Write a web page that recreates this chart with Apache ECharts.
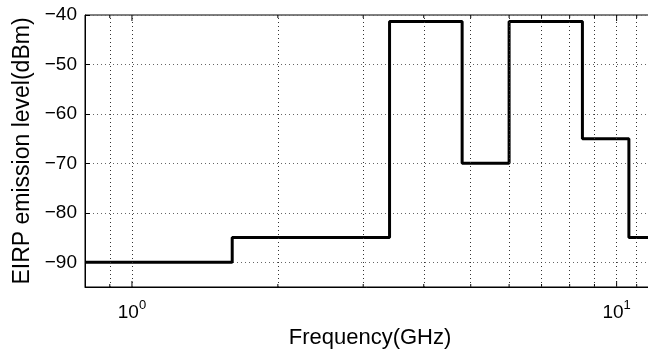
<!DOCTYPE html>
<html style="height: 100%">
<head>
    <meta charset="utf-8">
    <title>EIRP emission mask</title>
</head>
<body style="height: 100%; margin: 0; background: #fff">
<div id="container" style="width: 648px; height: 349px"></div>
<script type="text/javascript" src="https://cdn.jsdelivr.net/npm/echarts@6/dist/echarts.min.js"></script>
<script type="text/javascript">
    // step edges (GHz) and the level held between each pair of edges (dBm)
    var freqEdges = [0.8, 1.61, 3.4, 4.8, 6.0, 8.5, 10.6, 12];
    var levels = [-90, -85, -41.3, -70, -41.3, -65, -85];
    // vertical dotted grid lines / ticks on the log axis
    var gridFreqs = [0.9, 1, 2, 3, 4, 5, 6, 7, 8, 9, 10, 11];
    var yTicks = [-90, -80, -70, -60, -50, -40];

    var font = '"Liberation Sans", Arial, Helvetica, sans-serif';

    var stepData = [];
    for (var i = 0; i < freqEdges.length; i++) {
        var lv = i < levels.length ? levels[i] : levels[levels.length - 1];
        stepData.push([freqEdges[i], lv]);
    }

    var myChart = echarts.init(document.getElementById("container"));
    var option = {
        animation: false,
        grid: {
            left: 85,
            top: 15,
            width: 570,
            height: 272,
            containLabel: false,
            outerBoundsMode: 'none',
            show: true,
            borderColor: '#000',
            borderWidth: 1,
            backgroundColor: '#fff'
        },
        xAxis: {
            type: 'log',
            logBase: 10,
            min: 0.8,
            max: 12,
            name: 'Frequency(GHz)',
            nameLocation: 'middle',
            nameGap: 36,
            nameTextStyle: {fontFamily: font, fontSize: 22, color: '#000'},
            axisLine: {lineStyle: {color: '#000', width: 1}},
            axisTick: {show: false},
            splitLine: {show: false},
            axisLabel: {
                margin: 12,
                fontFamily: font,
                formatter: function (v) {
                    var p = Math.log(v) / Math.LN10;
                    if (Math.abs(p - Math.round(p)) > 1e-6) {
                        return '';
                    }
                    return '{b|10}{s|' + Math.round(p) + '}';
                },
                rich: {
                    b: {fontFamily: font, fontSize: 19, color: '#000', verticalAlign: 'bottom'},
                    s: {fontFamily: font, fontSize: 13, color: '#000', verticalAlign: 'top', padding: [0, 0, 10, 0]}
                }
            }
        },
        yAxis: {
            type: 'value',
            min: -95,
            max: -40,
            name: 'EIRP emission level(dBm)',
            nameLocation: 'middle',
            nameGap: 50,
            nameTextStyle: {fontFamily: font, fontSize: 23, color: '#000'},
            axisLine: {show: true, lineStyle: {color: '#000', width: 1}},
            axisTick: {show: true, inside: true, length: 5, lineStyle: {color: '#000'}},
            axisLabel: {
                margin: 8,
                fontFamily: font,
                fontSize: 19,
                color: '#000',
                formatter: function (v) {
                    if (yTicks.indexOf(v) < 0) return '';
                    return String(v).replace('-', '\u2212');
                }
            },
            splitLine: {
                show: true,
                lineStyle: {color: '#666', width: 1, type: [1, 3]}
            }
        },
        series: [
            {
                name: 'grid',
                type: 'line',
                data: [],
                silent: true,
                markLine: {
                    silent: true,
                    symbol: 'none',
                    label: {show: false},
                    lineStyle: {color: '#333', width: 1, type: [1, 3]},
                    data: gridFreqs.map(function (f) {
                        return {xAxis: f};
                    })
                }
            },
            {
                name: 'ticks',
                type: 'custom',
                silent: true,
                data: gridFreqs,
                renderItem: function (params, api) {
                    var f = api.value(0);
                    var p = Math.log(f) / Math.LN10;
                    var len = Math.abs(p - Math.round(p)) < 1e-6 ? 6 : 3;
                    var b = api.coord([f, -95]);
                    var t = api.coord([f, -40]);
                    var st = {stroke: '#000', lineWidth: 1};
                    return {
                        type: 'group',
                        children: [
                            {type: 'line', shape: {x1: b[0], y1: b[1], x2: b[0], y2: b[1] - len}, style: st},
                            {type: 'line', shape: {x1: t[0], y1: t[1], x2: t[0], y2: t[1] + len}, style: st}
                        ]
                    };
                },
                encode: {x: 0}
            },
            {
                name: 'EIRP',
                type: 'line',
                step: 'end',
                data: stepData,
                showSymbol: false,
                lineStyle: {color: '#000', width: 3},
                clip: true
            }
        ]
    };
    myChart.setOption(option, true);
</script>
</body>
</html>
